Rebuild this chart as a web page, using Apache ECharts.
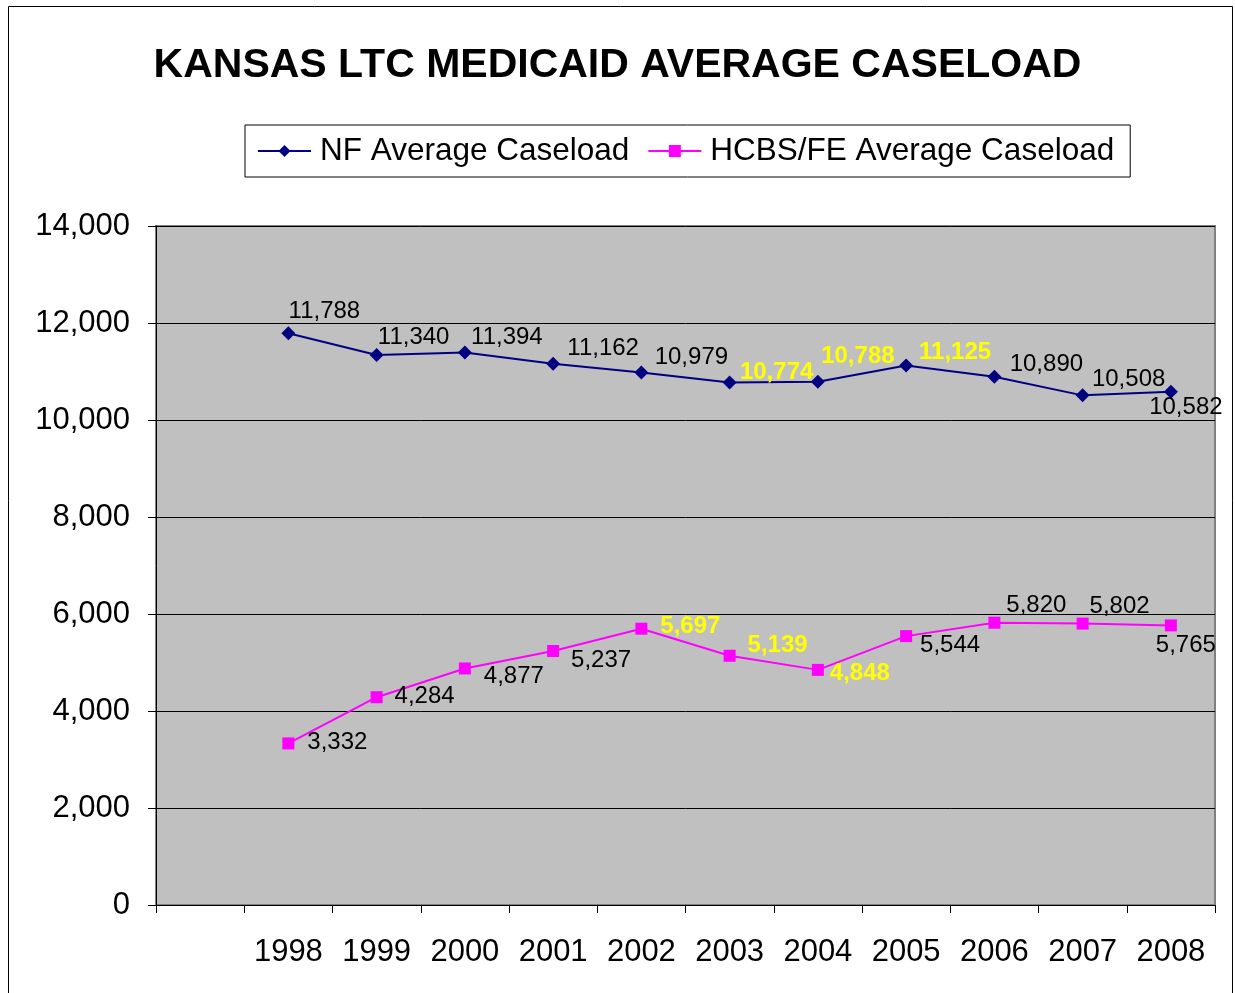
<!DOCTYPE html>
<html>
<head>
<meta charset="utf-8">
<title>Kansas LTC Medicaid Average Caseload</title>
<script src="https://cdn.jsdelivr.net/npm/echarts@6/dist/echarts.min.js"></script>
<style>
  html, body { margin: 0; padding: 0; background: #fff; }
  #main { width: 1235px; height: 993px; }
</style>
</head>
<body>
<div id="main"></div>
<script>
// data
let years = ['1998', '1999', '2000', '2001', '2002', '2003', '2004', '2005', '2006', '2007', '2008']
let nf_values = [11788, 11340, 11394, 11162, 10979, 10774, 10788, 11125, 10890, 10508, 10582]
let hcbs_values = [3332, 4284, 4877, 5237, 5697, 5139, 4848, 5544, 5820, 5802, 5765]
let y_ticks = [0, 2000, 4000, 6000, 8000, 10000, 12000, 14000]

// label placement (offset from the point) and which labels are yellow
let nf_offsets = [[36, -22], [37, -18], [42, -15], [50, -15], [50, -15], [47, -10], [40, -25], [49, -13], [52, -12], [46, -16], [15, 16]]
let hcbs_offsets = [[49, -1], [48, -1], [49, 8], [48, 9], [49, -2], [48, -10], [42, 4], [44, 9], [42, -17], [37, -17], [15, 20]]
let nf_yellow = [5, 6, 7]
let hcbs_yellow = [4, 5, 6]

let font = '"Liberation Sans", Arial, sans-serif'

function fmt(v) {
  return v.toString().replace(/\B(?=(\d{3})+(?!\d))/g, ',')
}

// first category is left empty, like the original
function buildData(values, offsets, yellow) {
  let out = [{ value: null }]
  for (let i = 0; i < values.length; i++) {
    let hl = yellow.indexOf(i) >= 0
    out.push({
      value: values[i],
      label: {
        show: true,
        position: 'inside',
        offset: offsets[i],
        formatter: fmt(values[i]),
        color: hl ? '#FFFF00' : '#000',
        fontWeight: hl ? 'bold' : 'normal',
        fontSize: 24,
        fontFamily: font
      }
    })
  }
  return out
}

let chart = echarts.init(document.getElementById('main'))

let option = {
  backgroundColor: '#fff',
  animation: false,
  graphic: [
    {
      type: 'rect',
      shape: { x: 8.5, y: 6.5, width: 1224, height: 1010 },
      style: { fill: 'none', stroke: '#000', lineWidth: 1 },
      silent: true
    }
  ],
  title: {
    text: 'KANSAS LTC MEDICAID AVERAGE CASELOAD',
    left: 'center',
    top: 40,
    textStyle: {
      fontFamily: font,
      fontSize: 41,
      fontWeight: 'bold',
      color: '#000'
    }
  },
  legend: {
    left: 245,
    top: 125,
    padding: [10, 16, 10, 12],
    itemWidth: 53,
    itemHeight: 15,
    itemGap: 18,
    backgroundColor: '#fff',
    borderColor: '#000',
    borderWidth: 1,
    textStyle: { fontFamily: font, fontSize: 31.5, color: '#000', padding: [0, 0, 0, 4] },
    data: ['NF Average Caseload', 'HCBS/FE Average Caseload']
  },
  grid: {
    left: 156,
    right: 20,
    top: 226,
    height: 679,
    show: true,
    backgroundColor: '#C0C0C0',
    borderColor: '#808080',
    borderWidth: 2
  },
  xAxis: {
    type: 'category',
    boundaryGap: true,
    data: [''].concat(years),
    axisLine: { lineStyle: { color: '#000', width: 1 } },
    axisTick: { show: true, interval: 0, length: 8, lineStyle: { color: '#000' } },
    axisLabel: {
      interval: 0,
      margin: 32,
      fontFamily: font,
      fontSize: 31,
      color: '#000'
    }
  },
  yAxis: {
    type: 'value',
    min: y_ticks[0],
    max: y_ticks[y_ticks.length - 1],
    interval: 2000,
    axisLine: { show: true, lineStyle: { color: '#000', width: 1 } },
    axisTick: { show: true, length: 8, lineStyle: { color: '#000' } },
    splitLine: { show: true, lineStyle: { color: '#000', width: 1 } },
    axisLabel: {
      margin: 26,
      fontFamily: font,
      fontSize: 31,
      color: '#000',
      formatter: function (v) { return fmt(v) }
    }
  },
  series: [
    {
      name: 'NF Average Caseload',
      type: 'line',
      data: buildData(nf_values, nf_offsets, nf_yellow),
      symbol: 'diamond',
      symbolSize: 14,
      color: '#000080',
      lineStyle: { color: '#000080', width: 2 },
      itemStyle: { color: '#000080' },
      z: 3
    },
    {
      name: 'HCBS/FE Average Caseload',
      type: 'line',
      data: buildData(hcbs_values, hcbs_offsets, hcbs_yellow),
      symbol: 'rect',
      symbolSize: 12,
      color: '#FF00FF',
      lineStyle: { color: '#FF00FF', width: 2 },
      itemStyle: { color: '#FF00FF' },
      z: 3
    }
  ]
}

chart.setOption(option)
</script>
</body>
</html>
